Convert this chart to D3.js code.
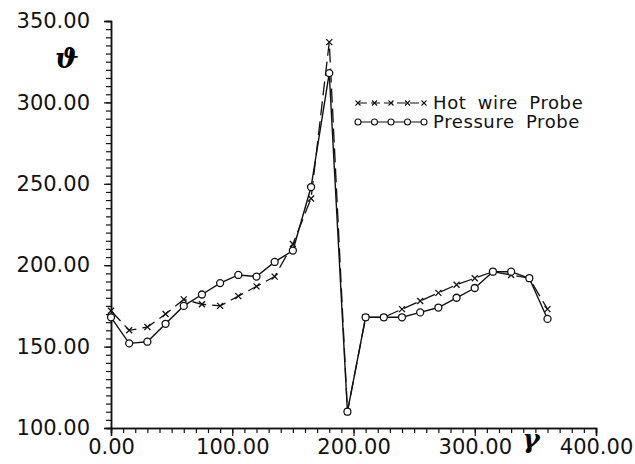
<!DOCTYPE html>
<html>
<head>
<meta charset="utf-8">
<script src="https://cdn.jsdelivr.net/npm/d3@7"></script>
<style>
  body { margin: 0; background: #fff; }
  svg { display: block; }
  .tick text { font-family: 'DejaVu Sans', sans-serif; }
</style>
</head>
<body>
<svg id="chart"></svg>
<script>
// angle gamma, every 15 degrees
const gamma = d3.range(0, 361, 15)
const hotWire = [172, 160, 162, 170, 179, 176, 175, 181, 187, 193, 213, 241, 337, 110,
  168, 168, 173, 178, 183, 188, 192, 196, 194, 192, 173]
const pressure = [168, 152, 153, 164, 175, 182, 189, 194, 193, 202, 209, 248, 318, 110,
  168, 168, 168, 171, 174, 180, 186, 196, 196, 192, 167]
const seriesNames = ['Hot wire Probe', 'Pressure Probe']
const xTicks = [0, 100, 200, 300, 400]
const yTicks = [100, 150, 200, 250, 300, 350]

const width = 635
const height = 464
const margin = { left: 111, top: 21, right: 39, bottom: 36 }
const plotW = width - margin.left - margin.right
const plotH = height - margin.top - margin.bottom

const svg = d3.select('#chart').attr('width', width).attr('height', height)

const x = d3.scaleLinear().domain([0, 400]).range([0, plotW])
const y = d3.scaleLinear().domain([100, 350]).range([plotH, 0])

const g = svg.append('g').attr('transform', `translate(${margin.left},${margin.top})`)

// minor ticks
g.append('g')
  .attr('transform', `translate(0,${plotH})`)
  .call(d3.axisBottom(x).tickValues(d3.range(0, 401, 10)).tickSize(5).tickFormat(''))
g.append('g')
  .call(d3.axisLeft(y).tickValues(d3.range(100, 351, 5)).tickSize(5).tickFormat(''))

// major ticks + labels
g.append('g')
  .attr('transform', `translate(0,${plotH})`)
  .call(d3.axisBottom(x).tickValues(xTicks).tickSize(8).tickPadding(3).tickFormat(d3.format('.2f')))
  .call((a) => a.selectAll('text').attr('font-size', 21).attr('fill', '#111'))
g.append('g')
  .call(d3.axisLeft(y).tickValues(yTicks).tickSize(7).tickPadding(14).tickFormat(d3.format('.2f')))
  .call((a) => a.selectAll('text').attr('font-size', 21).attr('fill', '#111'))

g.selectAll('.domain').attr('stroke', '#111').attr('stroke-width', 1.5)
g.selectAll('.tick line').attr('stroke', '#111').attr('stroke-width', 1.2)

// axis symbols
svg.append('text')
  .attr('x', 67).attr('y', 68)
  .attr('text-anchor', 'middle')
  .attr('font-family', 'DejaVu Serif, serif')
  .attr('font-style', 'italic').attr('font-weight', 'bold')
  .attr('font-size', 28)
  .text('ϑ')
svg.append('text')
  .attr('x', 531).attr('y', 448)
  .attr('text-anchor', 'middle')
  .attr('font-family', 'DejaVu Serif, serif')
  .attr('font-style', 'italic').attr('font-weight', 'bold')
  .attr('font-size', 26)
  .text('γ')

const hotData = gamma.map((d, i) => [d, hotWire[i]])
const presData = gamma.map((d, i) => [d, pressure[i]])
const line = d3.line().x((d) => x(d[0])).y((d) => y(d[1]))

const crossPath = (s) => `M${-s},${-s}L${s},${s}M${-s},${s}L${s},${-s}`

// hot wire: dashed with crosses
g.append('path')
  .datum(hotData)
  .attr('d', line)
  .attr('fill', 'none')
  .attr('stroke', '#111')
  .attr('stroke-width', 1.3)
  .attr('stroke-dasharray', '14,6')
g.selectAll('.cross')
  .data(hotData)
  .join('path')
  .attr('class', 'cross')
  .attr('transform', (d) => `translate(${x(d[0])},${y(d[1])})`)
  .attr('d', crossPath(3))
  .attr('stroke', '#111')
  .attr('stroke-width', 1.3)

// pressure: solid with circles
g.append('path')
  .datum(presData)
  .attr('d', line)
  .attr('fill', 'none')
  .attr('stroke', '#111')
  .attr('stroke-width', 1.4)
g.selectAll('.circ')
  .data(presData)
  .join('circle')
  .attr('class', 'circ')
  .attr('cx', (d) => x(d[0]))
  .attr('cy', (d) => y(d[1]))
  .attr('r', 3.5)
  .attr('fill', '#fff')
  .attr('stroke', '#111')
  .attr('stroke-width', 1.3)

// legend
const legend = svg.append('g').attr('transform', 'translate(358,103)')
const lx = d3.scaleLinear().domain([0, 4]).range([0, 66])
const lg = legend.selectAll('g')
  .data(seriesNames)
  .join('g')
  .attr('transform', (d, i) => `translate(0,${i * 19})`)
lg.append('line')
  .attr('x1', 0).attr('x2', 66)
  .attr('stroke', '#111')
  .attr('stroke-width', 1.2)
  .attr('stroke-dasharray', (d, i) => (i === 0 ? '9,4' : null))
lg.each(function (d, i) {
  const sel = d3.select(this)
  d3.range(5).forEach((k) => {
    if (i === 0) {
      sel.append('path')
        .attr('transform', `translate(${lx(k)},0)`)
        .attr('d', crossPath(2.5))
        .attr('stroke', '#111').attr('stroke-width', 1.1)
    } else {
      sel.append('circle')
        .attr('cx', lx(k)).attr('r', 3)
        .attr('fill', '#fff').attr('stroke', '#111').attr('stroke-width', 1.1)
    }
  })
})
lg.append('text')
  .attr('x', 75)
  .attr('dy', '0.35em')
  .attr('font-family', 'DejaVu Sans, sans-serif')
  .attr('font-size', 18)
  .attr('letter-spacing', 0.6)
  .attr('word-spacing', 5)
  .attr('fill', '#111')
  .text((d) => d)
</script>
</body>
</html>
